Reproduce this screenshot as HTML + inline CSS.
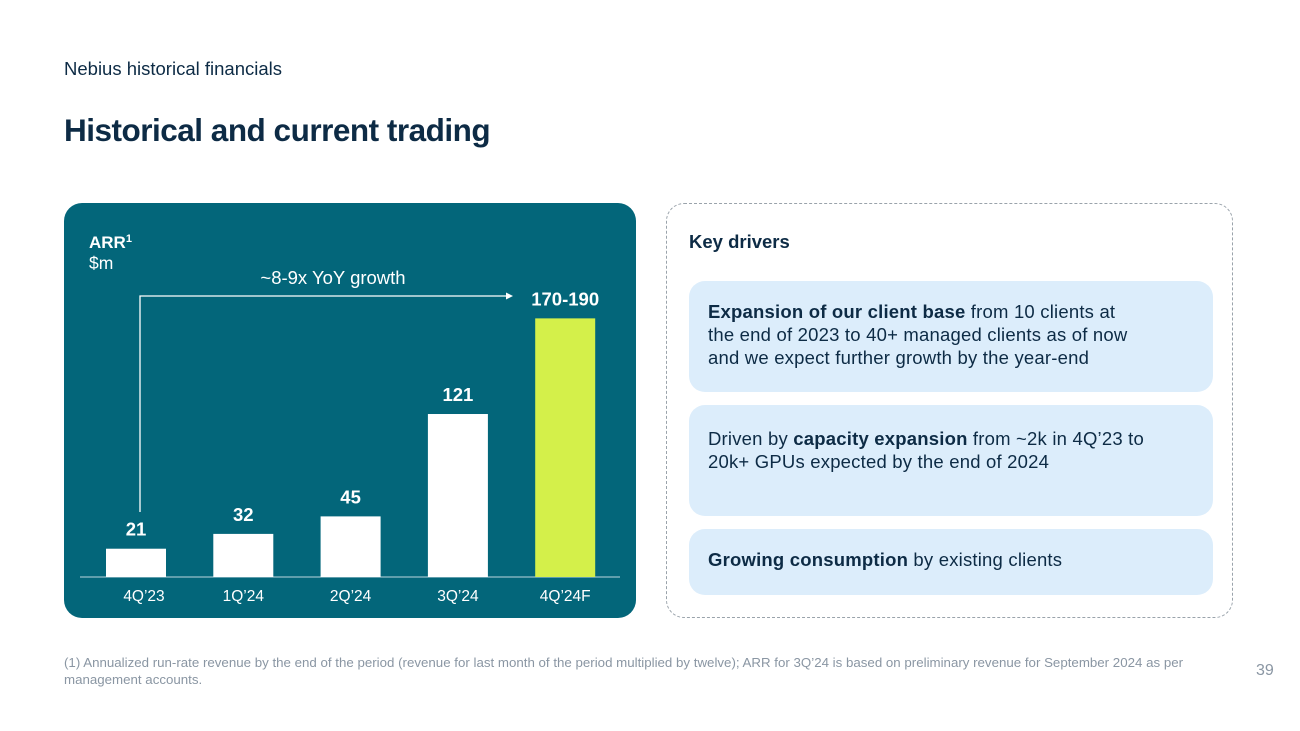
<!DOCTYPE html>
<html><head><meta charset="utf-8"><style>
body{margin:0;width:1300px;height:731px;background:#fff;font-family:"Liberation Sans",sans-serif;position:relative;overflow:hidden;color:#0d2b45}
.a{position:absolute}
.box{position:absolute;left:689px;width:524px;background:#dcedfb;border-radius:16px}
.box p{margin:0;position:absolute;left:19px;font-size:18.5px;letter-spacing:0.2px;line-height:23px;color:#0d2b45;white-space:nowrap}
</style></head><body>
<div class="a" style="left:64px;top:58px;font-size:18.5px">Nebius historical financials</div>
<div class="a" style="left:64px;top:112px;font-size:31.5px;font-weight:bold;letter-spacing:-0.5px">Historical and current trading</div>

<div class="a" style="left:64px;top:203px;width:572px;height:415px;background:#03667a;border-radius:18px"></div>
<svg class="a" style="left:0;top:0" width="1300" height="731" id="chart"></svg>

<div class="a" style="left:666px;top:203px;width:565px;height:413px;border:1px dashed #9aa3ab;border-radius:18px"></div>
<div class="a" style="left:689px;top:231px;font-size:18.5px;font-weight:bold">Key drivers</div>
<div class="box" style="top:281px;height:111px"><p style="top:19px"><b>Expansion of our client base</b> from 10 clients at<br>the end of 2023 to 40+ managed clients as of now<br>and we expect further growth by the year-end</p></div>
<div class="box" style="top:405px;height:111px"><p style="top:22px">Driven by <b>capacity expansion</b> from ~2k in 4Q’23 to<br>20k+ GPUs expected by the end of 2024</p></div>
<div class="box" style="top:529px;height:66px"><p style="top:19px"><b>Growing consumption</b> by existing clients</p></div>

<div class="a" style="left:64px;top:654px;width:1150px;font-size:13.3px;line-height:17px;color:#8a96a3">(1) Annualized run-rate revenue by the end of the period (revenue for last month of the period multiplied by twelve); ARR for 3Q’24 is based on preliminary revenue for September 2024 as per management accounts.</div>
<div class="a" style="left:1256px;top:662px;font-size:16px;color:#8a96a3">39</div>

<script>
const categories=["4Q’23","1Q’24","2Q’24","3Q’24","4Q’24F"];
const values=[21,32,45,121,192];
const valueLabels=["21","32","45","121","170-190"];
const barColors=["#fff","#fff","#fff","#fff","#d4f04a"];
const NS="http://www.w3.org/2000/svg";
const svg=document.getElementById('chart');
const baseY=577,pxPerUnit=1.347,x0=106,pitch=107.3,bw=60;
function xPos(i){return x0+i*pitch;}
function yPos(v){return baseY-v*pxPerUnit;}
function mk(t,a){const e=document.createElementNS(NS,t);for(const k in a)e.setAttribute(k,a[k]);svg.appendChild(e);return e;}
let ax=mk('line',{x1:80,y1:baseY,x2:620,y2:baseY,stroke:'#7fb1bd','stroke-width':1.5});


let t;
t=mk('text',{x:89,y:248,fill:'#fff','font-size':17,'font-weight':'bold','font-family':'Liberation Sans'});t.innerHTML='ARR<tspan font-size="11" dy="-6">1</tspan>';


t=mk('text',{x:89,y:269,fill:'#fff','font-size':17.5,'font-family':'Liberation Sans'});t.textContent='$m';


values.forEach((v,i)=>{
  const r=mk('rect',{x:xPos(i),y:yPos(v),width:bw,height:v*pxPerUnit,fill:barColors[i]});
  
  
  const l=mk('text',{x:xPos(i)+bw/2,y:yPos(v)-13,fill:'#fff','font-size':18.5,'font-weight':'bold','text-anchor':'middle','font-family':'Liberation Sans'});
  l.textContent=valueLabels[i];
  
  
  const c=mk('text',{x:xPos(i)+bw/2+(i==0?8:0),y:601,fill:'#fff','font-size':15.5,'text-anchor':'middle','font-family':'Liberation Sans'});
  c.textContent=categories[i];
  
  
});
const ar=mk('polyline',{points:`140,512 140,296 508,296`,fill:'none',stroke:'#fff','stroke-width':1.3});


const ah=mk('polygon',{points:'513,296 506,292.5 506,299.5',fill:'#fff'});


t=mk('text',{x:333,y:284,fill:'#fff','font-size':18.5,'text-anchor':'middle','font-family':'Liberation Sans'});t.textContent='~8-9x YoY growth';


</script>
</body></html>
